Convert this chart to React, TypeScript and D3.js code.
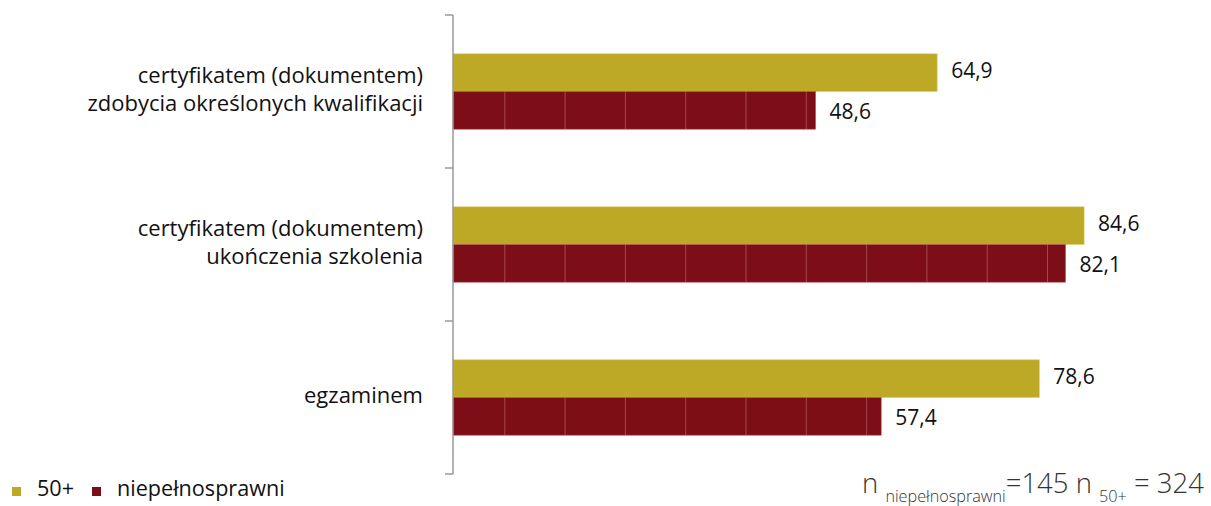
import React from "react";
import * as d3 from "d3";

const categories = [
  ["certyfikatem (dokumentem)", "zdobycia określonych kwalifikacji"],
  ["certyfikatem (dokumentem)", "ukończenia szkolenia"],
  ["egzaminem"],
];
const categoryKeys = ["kwalifikacje", "szkolenie", "egzamin"];
const seriesNames = ["50+", "niepełnosprawni"];
const values50 = [64.9, 84.6, 78.6];
const valuesNiep = [48.6, 82.1, 57.4];
const seriesColors = ["#BEA926", "#7D0D16"];
const footParts = { n1: "niepełnosprawni", v1: "145", n2: "50+", v2: "324" };

const W = 1211;
const H = 506;
const FONT = "'Open Sans', 'DejaVu Sans', sans-serif";

export default function App() {
  const x = d3.scaleLinear().domain([0, 100]).range([453, 1199]);
  const y = d3.scaleBand<string>().domain(categoryKeys).range([15, 474]).padding(0);
  const sub = d3
    .scaleBand<string>()
    .domain(seriesNames)
    .range([0, y.bandwidth()])
    .paddingInner(0)
    .paddingOuter(1.03);
  const series = [values50, valuesNiep];
  const tickYs = [...categoryKeys.map((k) => y(k)!), y(categoryKeys[categoryKeys.length - 1])! + y.bandwidth()];
  const labelOffsets = [5, 9];

  return (
    <svg
      width={W}
      height={H}
      style={{ position: "absolute", left: 0, top: 0, background: "#fff" }}
      fontFamily={FONT}
    >
      <defs>
        <pattern id="redTex" patternUnits="userSpaceOnUse" x={x(0) + 51.3} y={0} width={60.3} height={H}>
          <rect x={0} y={0} width={60.3} height={H} fill={seriesColors[1]} />
          <rect x={0} y={0} width={1} height={H} fill="#A4474E" />
        </pattern>
      </defs>

      {/* bars */}
      {series.map((vals, si) =>
        vals.map((v, ci) => {
          const by = y(categoryKeys[ci])! + sub(seriesNames[si])!;
          const bh = sub.bandwidth();
          return (
            <g key={`b${si}-${ci}`}>
              <rect
                x={x(0)}
                y={by}
                width={x(v) - x(0)}
                height={bh}
                fill={si === 1 ? "url(#redTex)" : seriesColors[0]}
                stroke={si === 1 ? "#B0555C" : "#D8CB7A"}
                strokeWidth={0.6}
              />
              <text
                x={x(v) + 14}
                y={by + bh / 2 + labelOffsets[si]}
                fontSize={21}
                fill="#111"
              >
                {d3.format(".1f")(v).replace(".", ",")}
              </text>
            </g>
          );
        })
      )}

      {/* axis */}
      <g stroke="#9a9a9a" strokeWidth={1.5} fill="none">
        <line x1={x(0)} x2={x(0)} y1={tickYs[0]} y2={tickYs[tickYs.length - 1]} />
        {tickYs.map((t, i) => (
          <line key={i} x1={x(0) - 8} x2={x(0)} y1={t} y2={t} />
        ))}
      </g>

      {/* category labels */}
      {categories.map((lines, ci) => {
        const cy = y(categoryKeys[ci])! + y.bandwidth() / 2;
        const lh = 28;
        const start = cy + 5 - ((lines.length - 1) * lh) / 2;
        return (
          <text key={ci} textAnchor="end" fontSize={22} fill="#111">
            {lines.map((l, li) => (
              <tspan key={li} x={423} y={start + li * lh}>
                {l}
              </tspan>
            ))}
          </text>
        );
      })}

      {/* legend */}
      <g>
        <rect x={12} y={487} width={9} height={9} fill={seriesColors[0]} />
        <text x={37} y={496} fontSize={21.6} fill="#111">{seriesNames[0]}</text>
        <rect x={92} y={487} width={9} height={9} fill={seriesColors[1]} />
        <text x={117} y={496} fontSize={21.6} fill="#111">{seriesNames[1]}</text>
      </g>

      {/* footnote */}
      <text x={862} y={493} fontSize={27.5} fontWeight={300} fill="#333">
        <tspan>n </tspan>
        <tspan fontSize={16.2} y={502}>{footParts.n1}</tspan>
        <tspan y={493}>={footParts.v1} n </tspan>
        <tspan fontSize={16.2} y={502}>{footParts.n2}</tspan>
        <tspan y={493}> = {footParts.v2}</tspan>
      </text>
    </svg>
  );
}
